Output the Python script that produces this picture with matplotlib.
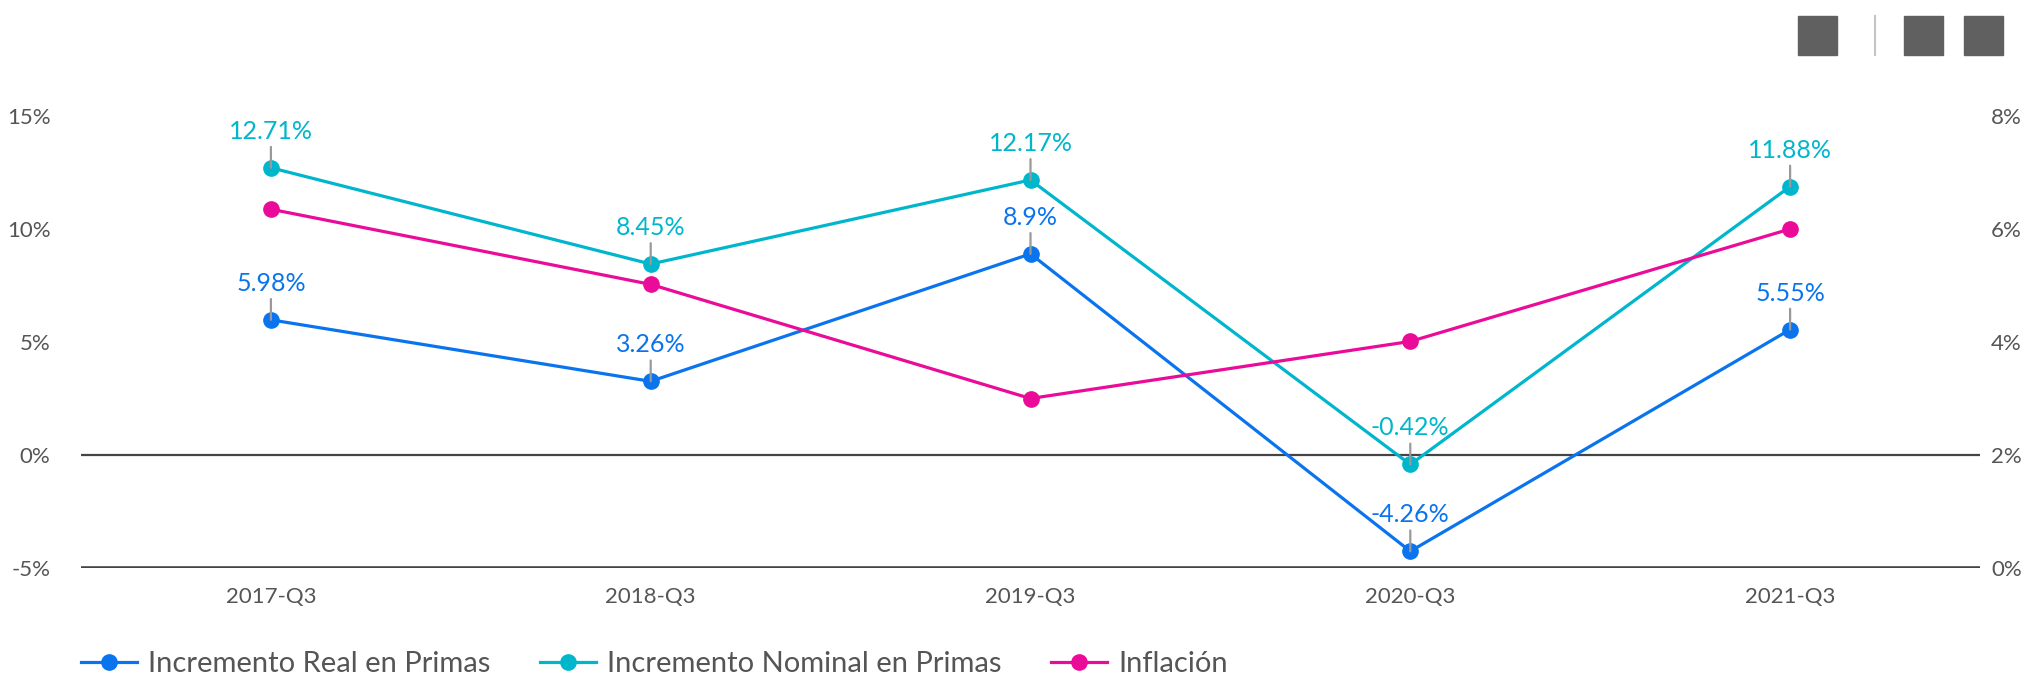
import matplotlib.pyplot as plt
from matplotlib.patches import Rectangle
from matplotlib.lines import Line2D

plt.rcParams['font.family'] = ['Lato', 'DejaVu Sans']

trimestres = ["2017-Q3", "2018-Q3", "2019-Q3", "2020-Q3", "2021-Q3"]
real = [5.98, 3.26, 8.9, -4.26, 5.55]
nominal = [12.71, 8.45, 12.17, -0.42, 11.88]
inflacion = [6.35, 5.02, 3.00, 4.01, 6.00]

c_real = "#0a74ef"
c_nom = "#00b6cc"
c_inf = "#ea0b98"
gris = "#555555"

fig = plt.figure(figsize=(20.42, 6.88), dpi=100)
ax = fig.add_axes([81/2042, 120/688, 1899/2042, 452/688])
ax2 = ax.twinx()

x = range(len(trimestres))

# lineas de referencia
ax.axhline(0, color="#444444", lw=1.6, zorder=1)
ax.axhline(-5, color="#444444", lw=2.6, zorder=1)

ax.plot(x, real, color=c_real, lw=2.3, marker="o", ms=11, zorder=4)
ax.plot(x, nominal, color=c_nom, lw=2.3, marker="o", ms=11, zorder=4)
ax2.plot(x, inflacion, color=c_inf, lw=2.3, marker="o", ms=11, zorder=4)

def etiquetas(vals, col):
    for i, v in enumerate(vals):
        ax.annotate(f"{v:g}%", xy=(i, v), xytext=(0, 18), textcoords="offset points",
                    ha="center", va="bottom", fontsize=18, color=col, zorder=5,
                    arrowprops=dict(arrowstyle="-", color="#999999", lw=1.6,
                                    shrinkA=1, shrinkB=0))

etiquetas(real, c_real)
etiquetas(nominal, c_nom)

ax.set_xlim(-0.5, 4.5)
ax.set_ylim(-5, 15)
ax2.set_ylim(0, 8)
ax.set_yticks([-5, 0, 5, 10, 15])
ax.set_yticklabels(["-5%", "0%", "5%", "10%", "15%"])
ax2.set_yticks([0, 2, 4, 6, 8])
ax2.set_yticklabels(["0%", "2%", "4%", "6%", "8%"])
ax.set_xticks(list(x))
ax.set_xticklabels(trimestres)

for a in (ax, ax2):
    for s in a.spines.values():
        s.set_visible(False)
    a.tick_params(length=0, colors=gris, labelsize=16)
ax.tick_params(axis="y", pad=22)
ax2.tick_params(axis="y", pad=8)
ax.tick_params(axis="x", pad=14)

# leyenda
handles = [Line2D([], [], color=c, lw=2.3, marker="o", ms=11) for c in (c_real, c_nom, c_inf)]
fig.legend(handles, ["Incremento Real en Primas", "Incremento Nominal en Primas", "Inflación"],
           loc="center left", bbox_to_anchor=(55/2042, 1 - 664/688), ncol=3, frameon=False,
           fontsize=21, labelcolor=gris, handlelength=1.9, handletextpad=0.4,
           columnspacing=1.7)

# iconos grises arriba a la derecha
for x0 in (1798, 1904, 1964):
    fig.patches.append(Rectangle((x0/2042, 1 - 55/688), 39/2042, 39/688,
                                 transform=fig.transFigure, color="#606060"))
fig.add_artist(Line2D([1875/2042, 1875/2042], [1 - 16/688, 1 - 55/688],
                      transform=fig.transFigure, color="#c4c4c4", lw=1.5))

fig.savefig("out.png", dpi=100)
